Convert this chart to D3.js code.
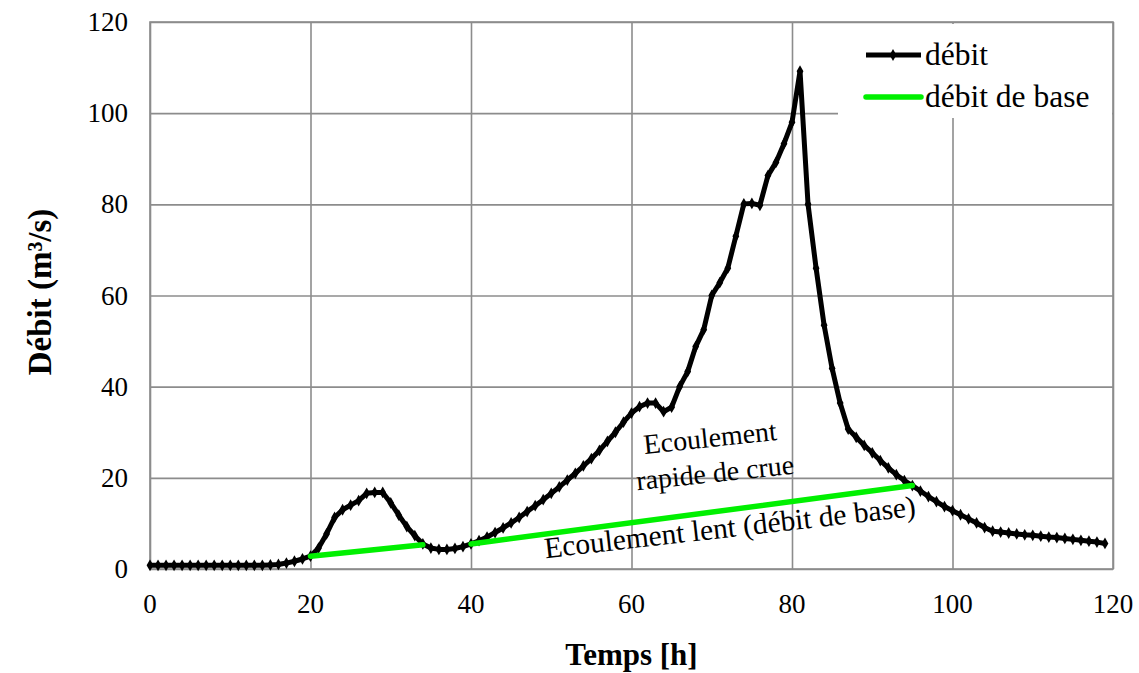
<!DOCTYPE html>
<html>
<head>
<meta charset="utf-8">
<script src="https://cdn.jsdelivr.net/npm/d3@7"></script>
<style>
  html, body { margin: 0; padding: 0; background: #fff; }
</style>
</head>
<body>
<svg id="chart" width="1139" height="673"></svg>
<script>
// ---- Data ----
const debit = [
  0.8, 0.8, 0.8, 0.8, 0.8, 0.8, 0.8, 0.8, 0.8, 0.8,
  0.8, 0.8, 0.8, 0.8, 0.8, 0.9, 1.0, 1.3, 1.7, 2.2,
  2.8, 4.6, 7.7, 11.3, 13.0, 14.0, 15.0, 16.6, 16.8, 16.8,
  14.5, 11.8, 9.3, 7.3, 5.5, 4.6, 4.3, 4.3, 4.5, 4.9,
  5.5, 6.2, 7.0, 8.0, 9.0, 10.1, 11.3, 12.6, 13.9, 15.2,
  16.6, 18.0, 19.5, 21.0, 22.6, 24.2, 26.0, 28.0, 30.0, 32.2,
  34.2, 35.6, 36.4, 36.4, 34.5, 35.5, 40.0, 43.3, 48.8, 52.5,
  60.0, 62.8, 66.0, 73.0, 80.1, 80.2, 79.8, 86.3, 89.2, 93.3,
  98.0, 109.2, 80.0, 66.0, 53.5, 44.0, 36.4, 30.7, 28.9, 27.1,
  25.5, 23.8, 22.2, 20.7, 19.4, 18.3, 17.1, 15.9, 14.8, 13.7,
  12.8, 11.9, 11.0, 10.1, 9.1, 8.3, 8.1, 7.9, 7.7, 7.5,
  7.4, 7.2, 7.0, 6.9, 6.7, 6.5, 6.3, 6.1, 5.9, 5.6
];
const hours = debit.map((_, i) => i);          // one value per hour
const baseSegment1 = [[20, 2.8], [34, 5.3]];   // débit de base, first event
const baseSegment2 = [[40, 5.5], [95, 18.3]];  // débit de base, main flood
const xTicks = [0, 20, 40, 60, 80, 100, 120];
const yTicks = [0, 20, 40, 60, 80, 100, 120];
const legendLabels = ["débit", "débit de base"];
const xTitle = "Temps [h]";
const yTitle = "Débit (m³/s)";
const noteRapide = ["Ecoulement", "rapide de crue"];
const noteLent = "Ecoulement lent (débit de base)";

// ---- Layout ----
const FONT = '"Liberation Serif", "Times New Roman", Times, serif';
const svg = d3.select("#chart");
const pLeft = 150, pRight = 1113, pTop = 22, pBottom = 569;
const x = d3.scaleLinear().domain([0, 120]).range([pLeft, pRight]);
const y = d3.scaleLinear().domain([0, 120]).range([pBottom, pTop]);
const gridColor = "#8c8c8c";
const green = "#00f000";

// grid lines
const gx = svg.append("g")
  .attr("transform", `translate(0,${pBottom})`)
  .call(d3.axisBottom(x).tickValues(xTicks).tickSize(-(pBottom - pTop)).tickFormat(""));
const gy = svg.append("g")
  .attr("transform", `translate(${pLeft},0)`)
  .call(d3.axisLeft(y).tickValues(yTicks).tickSize(-(pRight - pLeft)).tickFormat(""));
[gx, gy].forEach(g => {
  g.select(".domain").remove();
  g.selectAll("line").attr("stroke", gridColor).attr("stroke-width", 1.6);
});

// plot border
svg.append("rect")
  .attr("x", pLeft).attr("y", pTop)
  .attr("width", pRight - pLeft).attr("height", pBottom - pTop)
  .attr("fill", "none").attr("stroke", gridColor).attr("stroke-width", 1.6);

// tick labels
svg.append("g").selectAll("text").data(xTicks).join("text")
  .attr("x", d => x(d)).attr("y", 613)
  .attr("text-anchor", "middle")
  .style("font-family", FONT).style("font-size", "27px")
  .attr("fill", "#000")
  .text(d => d);
svg.append("g").selectAll("text").data(yTicks).join("text")
  .attr("x", 128).attr("y", d => y(d) + 9)
  .attr("text-anchor", "end")
  .style("font-family", FONT).style("font-size", "27px")
  .attr("fill", "#000")
  .text(d => d);

// axis titles
svg.append("text")
  .attr("x", (pLeft + pRight) / 2).attr("y", 665)
  .attr("text-anchor", "middle")
  .style("font-family", FONT).style("font-size", "31px").style("font-weight", "bold")
  .text(xTitle);
svg.append("text")
  .attr("transform", `translate(51,292) rotate(-90)`)
  .attr("text-anchor", "middle")
  .style("font-family", FONT).style("font-size", "33px").style("font-weight", "bold")
  .text(yTitle);

// legend box (covers grid)
svg.append("rect")
  .attr("x", 838).attr("y", 24).attr("width", 274).attr("height", 94)
  .attr("fill", "#fff");

// débit line
const line = d3.line().x(d => x(d[0])).y(d => y(d[1]));
const debitPts = hours.map((h, i) => [h, debit[i]]);
svg.append("path")
  .datum(debitPts)
  .attr("d", line)
  .attr("fill", "none").attr("stroke", "#000")
  .attr("stroke-width", 5).attr("stroke-linejoin", "round");
const diamond = d3.symbol().type(d3.symbolDiamond).size(40);
svg.append("g").selectAll("path").data(debitPts).join("path")
  .attr("transform", d => `translate(${x(d[0])},${y(d[1])})`)
  .attr("d", diamond)
  .attr("fill", "#000");

// base flow
[baseSegment1, baseSegment2].forEach(seg => {
  svg.append("path")
    .datum(seg)
    .attr("d", line)
    .attr("fill", "none").attr("stroke", green)
    .attr("stroke-width", 5.5).attr("stroke-linecap", "round");
});

// annotations
const note = (txt, tx, ty, rot, fs) => svg.append("text")
  .attr("transform", `translate(${tx},${ty}) rotate(${rot})`)
  .attr("text-anchor", "middle")
  .style("font-family", FONT).style("font-size", fs + "px")
  .text(txt);
note(noteRapide[0], 711, 447, -6, 28);
note(noteRapide[1], 716, 482, -6, 28);
note(noteLent, 731, 537, -6.5, 29.5);

// legend entries
const lg = svg.append("g");
lg.append("line").attr("x1", 866).attr("x2", 921).attr("y1", 55).attr("y2", 55)
  .attr("stroke", "#000").attr("stroke-width", 5);
lg.append("path").attr("transform", "translate(893,55)").attr("d", diamond).attr("fill", "#000");
lg.append("line").attr("x1", 866).attr("x2", 921).attr("y1", 97).attr("y2", 97)
  .attr("stroke", green).attr("stroke-width", 5.5).attr("stroke-linecap", "round");
lg.selectAll("text").data(legendLabels).join("text")
  .attr("x", 925).attr("y", (d, i) => 65 + i * 42)
  .style("font-family", FONT).style("font-size", "31.5px")
  .text(d => d);
</script>
</body>
</html>
